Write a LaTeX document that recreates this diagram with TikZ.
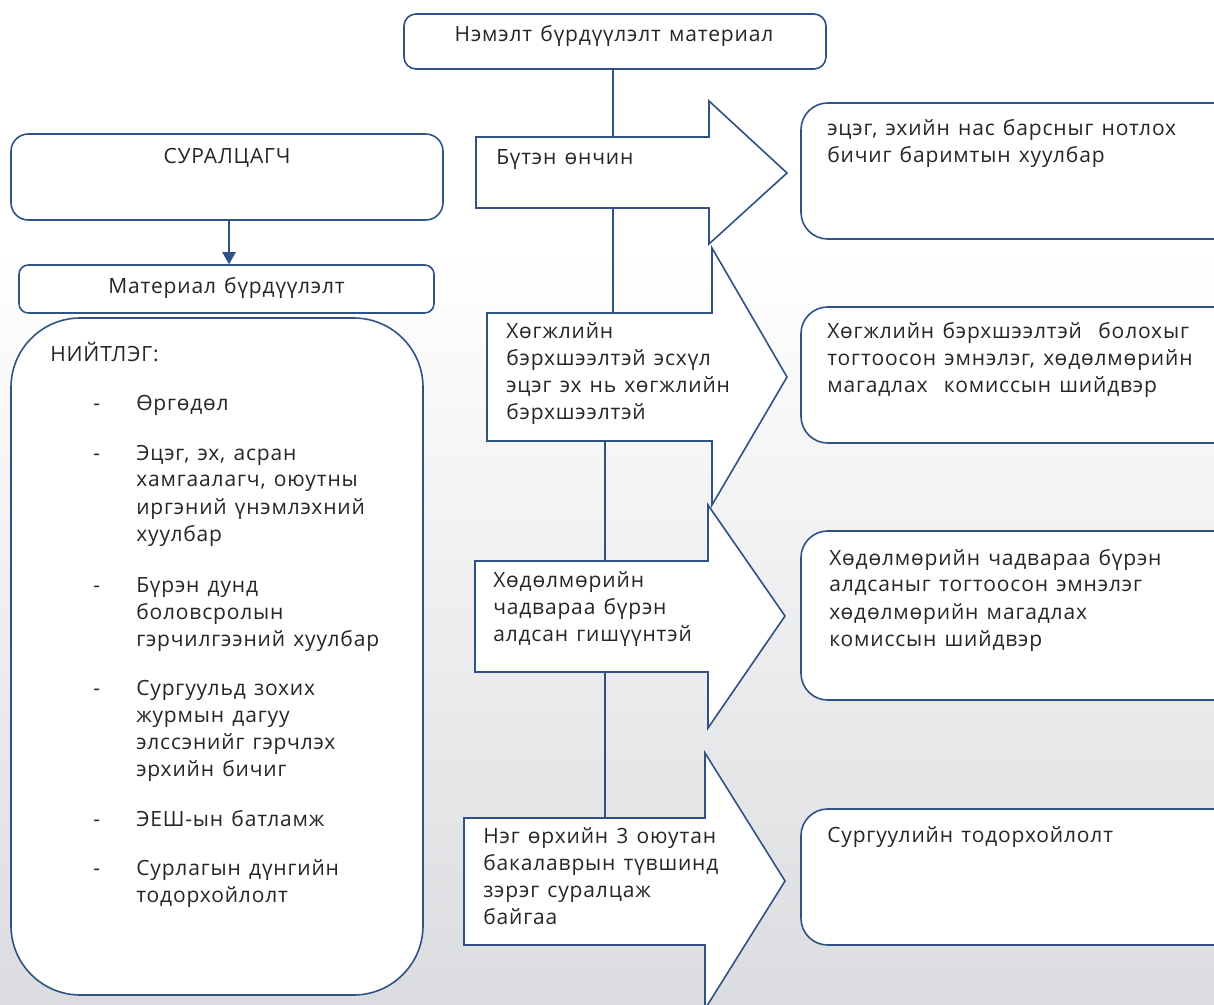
\documentclass[tikz,border=0pt]{standalone}
\usepackage{fontspec}
\setmainfont{Open Sans}[LetterSpace=4,WordSpace=1.3]
\usetikzlibrary{arrows.meta}
\definecolor{edge}{RGB}{47,82,133}
\definecolor{ink}{RGB}{38,38,38}
\definecolor{bgbot}{RGB}{219,220,223}
\newcommand\ml[1]{\vtop{\baselineskip=20.25pt\lineskiplimit=-20pt\halign{##\hfil\cr#1\crcr}}}
\begin{document}
\begin{tikzpicture}[x=0.75pt,y=-0.75pt,
  rbox/.style={draw=edge,fill=white,line width=1.2pt,inner sep=0pt},
  blockarrow/.style={draw=edge,fill=white,line width=1.2pt,line join=miter},
  conn/.style={draw=edge,line width=1.2pt},
  txt/.style={text=ink,inner sep=0pt,anchor=base west,font=\fontsize{15.75}{20.25}\selectfont},
  ctxt/.style={txt,anchor=base}]
\useasboundingbox (0,0) rectangle (1214,1005);
\clip (0,0) rectangle (1214,1005);
% background
\fill[white] (0,0) rectangle (1214,251);
\shade[top color=white,bottom color=bgbot] (0,250) rectangle (1214,1005);

% top box
\node[rbox,rounded corners=9pt,minimum width=316.5pt,minimum height=41.25pt] (top) at (615,41.5) {};
\node[ctxt] (toptxt) at (614,42) {Нэмэлт бүрдүүлэлт материал};

% student
\node[rbox,rounded corners=13pt,minimum width=324pt,minimum height=64.5pt] (student) at (227,177) {};
\node[ctxt] (studenttxt) at (227,164) {СУРАЛЦАГЧ};

% material
\node[rbox,rounded corners=7pt,minimum width=311.25pt,minimum height=36pt] (mat) at (226.5,289) {};
\node[ctxt] (mattxt) at (226.5,294) {Материал бүрдүүлэлт};
\draw[conn,-{Triangle[length=9pt,width=10pt]}] ([xshift=1.5pt]student.south) -- ([xshift=1.9pt]mat.north);

% general list
\node[rbox,rounded corners=52pt,minimum width=309pt,minimum height=507.75pt] (gen) at (217,656.5) {};
\node[txt] (gentitle) at (50,362) {НИЙТЛЭГ:};
\node[txt] (d1) at (93,411) {-};
\node[txt] (i1) at (136,411) {Өргөдөл};
\node[txt] (d2) at (93,460) {-};
\node[txt] (i2) at (136,460) {\ml{Эцэг, эх, асран\cr хамгаалагч, оюутны\cr иргэний үнэмлэхний\cr хуулбар}};
\node[txt] (d3) at (93,592) {-};
\node[txt] (i3) at (136,592) {\ml{Бүрэн дунд\cr боловсролын\cr гэрчилгээний хуулбар}};
\node[txt] (d4) at (93,695) {-};
\node[txt] (i4) at (136,695) {\ml{Сургуульд зохих\cr журмын дагуу\cr элссэнийг гэрчлэх\cr эрхийн бичиг}};
\node[txt] (d5) at (93,826) {-};
\node[txt] (i5) at (136,826) {ЭЕШ-ын батламж};
\node[txt] (d6) at (93,875) {-};
\node[txt] (i6) at (136,875) {\ml{Сурлагын дүнгийн\cr тодорхойлолт}};

% vertical connectors (behind the arrows)
\coordinate (a2top) at (613,313);
\coordinate (a2bot) at (605,441);
\coordinate (a4top) at (605,818);
\draw[conn] (a2top |- top.south) -- (a2top);
\draw[conn] (a2bot) -- (a4top);

% block arrows
\draw[blockarrow] (476,137) -- (709,137) -- (709,101) -- (787,173) -- (709,244) -- (709,208) -- (476,208) -- cycle;
\draw[blockarrow] (487,313) -- (712,313) -- (712,248) -- (787,377) -- (712,505) -- (712,441) -- (487,441) -- cycle;
\draw[blockarrow] (475,561) -- (708,561) -- (708,505) -- (785,616) -- (708,728) -- (708,672) -- (475,672) -- cycle;
\draw[blockarrow] (464,818) -- (705,818) -- (705,753) -- (785,881) -- (705,1009) -- (705,945) -- (464,945) -- cycle;
\node[txt] (a1txt) at (496,165) {Бүтэн өнчин};
\node[txt] (a2txt) at (506,339) {\ml{Хөгжлийн\cr бэрхшээлтэй эсхүл\cr эцэг эх нь хөгжлийн\cr бэрхшээлтэй}};
\node[txt] (a3txt) at (493,587) {\ml{Хөдөлмөрийн\cr чадвараа бүрэн\cr алдсан гишүүнтэй}};
\node[txt] (a4txt) at (483,843) {\ml{Нэг өрхийн 3 оюутан\cr бакалаврын түвшинд\cr зэрэг суралцаж\cr байгаа}};

% right boxes
\node[rbox,rounded corners=20pt,minimum width=329.25pt,minimum height=102pt] (b1) at (1020.5,171) {};
\node[rbox,rounded corners=20pt,minimum width=329.25pt,minimum height=102pt] (b2) at (1020.5,375) {};
\node[rbox,rounded corners=20pt,minimum width=329.25pt,minimum height=126.75pt] (b3) at (1020.5,615.5) {};
\node[rbox,rounded corners=20pt,minimum width=329.25pt,minimum height=102pt] (b4) at (1020.5,877) {};
\node[txt] (b1txt) at (827,136) {\ml{эцэг, эхийн нас барсныг нотлох\cr бичиг баримтын хуулбар}};
\node[txt] (b2txt) at (827,339) {\ml{Хөгжлийн бэрхшээлтэй\ \ болохыг\cr тогтоосон эмнэлэг, хөдөлмөрийн\cr магадлах\ \ комиссын шийдвэр}};
\node[txt] (b3txt) at (829,565) {\ml{Хөдөлмөрийн чадвараа бүрэн\cr алдсаныг тогтоосон эмнэлэг\cr хөдөлмөрийн магадлах\cr комиссын шийдвэр}};
\node[txt] (b4txt) at (827,842) {Сургуулийн тодорхойлолт};
\end{tikzpicture}
\end{document}
